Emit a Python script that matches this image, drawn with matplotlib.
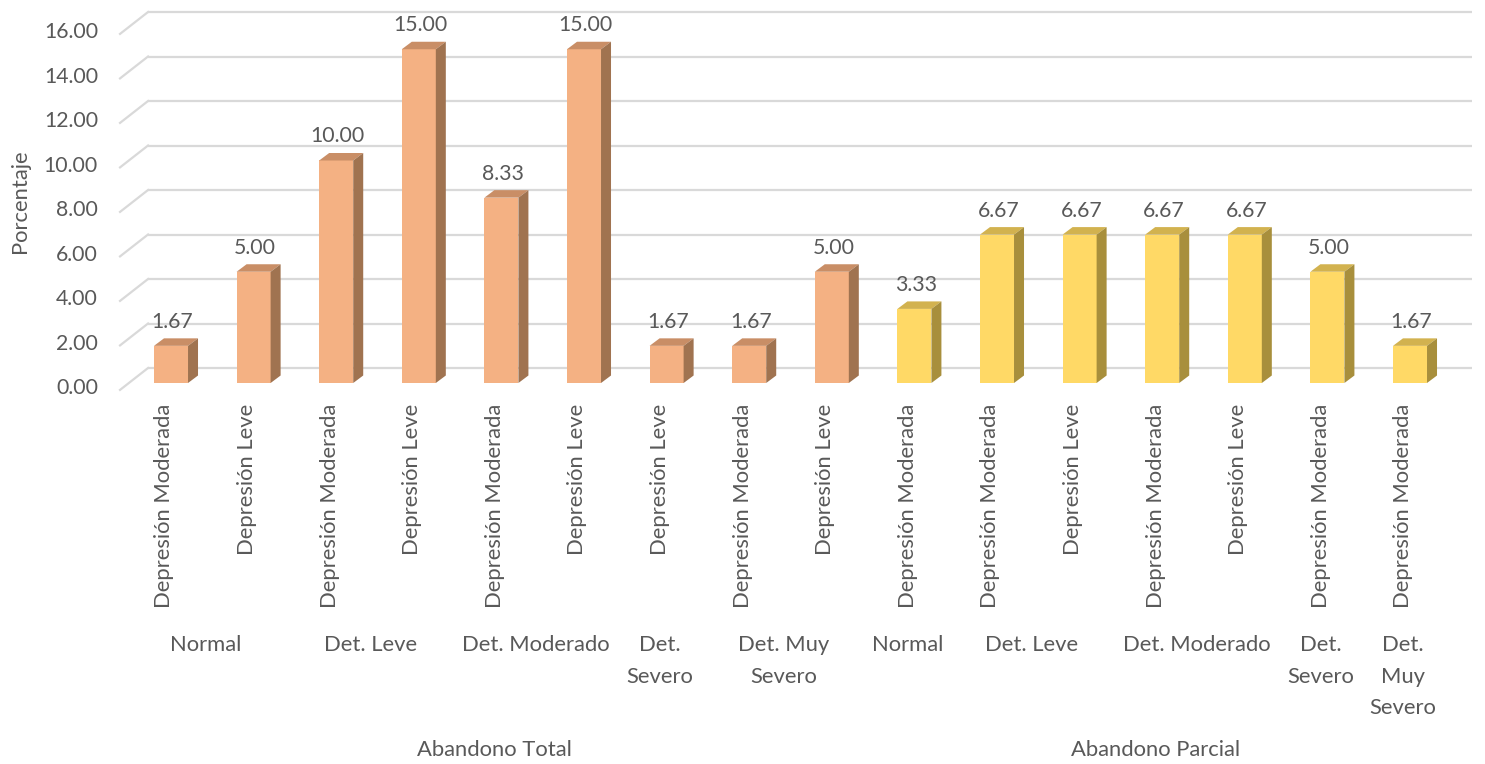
import matplotlib
matplotlib.use("Agg")
import matplotlib.pyplot as plt
from matplotlib.patches import Polygon

plt.rcParams['font.family'] = ['Lato', 'DejaVu Sans']

# ---- data ----
values = [1.67, 5.00, 10.00, 15.00, 8.33, 15.00, 1.67, 1.67, 5.00,
          3.33, 6.67, 6.67, 6.67, 6.67, 5.00, 1.67]
categories = ["Depresión Moderada", "Depresión Leve", "Depresión Moderada", "Depresión Leve",
              "Depresión Moderada", "Depresión Leve", "Depresión Leve", "Depresión Moderada",
              "Depresión Leve",
              "Depresión Moderada", "Depresión Moderada", "Depresión Leve", "Depresión Moderada",
              "Depresión Leve", "Depresión Moderada", "Depresión Moderada"]
mid_labels = ["Normal", "Det. Leve", "Det. Moderado", "Det.\nSevero", "Det. Muy\nSevero",
              "Normal", "Det. Leve", "Det. Moderado", "Det.\nSevero", "Det.\nMuy\nSevero"]
mid_sizes = [2, 2, 2, 1, 2, 1, 2, 2, 1, 1]
top_labels = ["Abandono Total", "Abandono Parcial"]
top_sizes = [9, 7]
yticks = [0, 2, 4, 6, 8, 10, 12, 14, 16]
ylabel = "Porcentaje"

# ---- style ----
TXT = "#595959"
GRID = "#D9D9D9"
faces = {
    0: ("#F4B183", "#C98E66", "#A07350"),
    1: ("#FFD966", "#D2B24F", "#A88F3C"),
}
FS_NUM = 15.3
FS_TXT = 15.8

W, H = 1485, 764
fig = plt.figure(figsize=(W / 100, H / 100), dpi=100)
ax = fig.add_axes([0, 0, 1, 1])
# data mapping: bar i centred at px 171 + i*82.6 ; value 0 at px 383, 22.25 px per unit
xu = 15 / 1239.0
yu = 1 / 22.25
x0 = -171 * xu
ax.set_xlim(x0, x0 + W * xu)
ax.set_ylim(-(H - 383) * yu, 383 * yu)
ax.axis("off")

# 3D frame geometry (in data units)
wall_front_x = -0.617
wall_back_x = -0.278
wall_front_dy = -0.31
wall_back_dy = 0.674
grid_right = (1472 - 171) * xu

for v in yticks:
    ax.plot([wall_back_x, grid_right], [v + wall_back_dy] * 2, color=GRID, lw=1.6, zorder=1,
            solid_capstyle="butt")
    ax.plot([wall_front_x, wall_back_x], [v + wall_front_dy, v + wall_back_dy], color=GRID,
            lw=1.6, zorder=1)
    ax.text(-0.884, v - 0.225, f"{v:.2f}", ha="right", va="center", fontsize=FS_NUM, color=TXT)

ax.text(-1.83, (383 - 201) * yu, ylabel, rotation=90, ha="center", va="center",
        fontsize=FS_TXT, color=TXT)

# bars
hw = 0.206
ddx = 10 * xu
ddy = 7.5 * yu
group_of = []
for g, n in enumerate(top_sizes):
    group_of += [g] * n

for i, v in enumerate(values):
    front, top, side = faces[group_of[i]]
    xl, xr = i - hw, i + hw
    ax.add_patch(Polygon([(xl, 0), (xr, 0), (xr, v), (xl, v)], closed=True,
                         facecolor=front, edgecolor="none", zorder=3))
    ax.add_patch(Polygon([(xl, v), (xr, v), (xr + ddx, v + ddy), (xl + ddx, v + ddy)],
                         closed=True, facecolor=top, edgecolor="none", zorder=3))
    ax.add_patch(Polygon([(xr, 0), (xr + ddx, ddy), (xr + ddx, v + ddy), (xr, v)],
                         closed=True, facecolor=side, edgecolor="none", zorder=3))
    ax.text(i + 0.02, v + 0.81, f"{v:.2f}", ha="center", va="baseline", fontsize=FS_NUM,
            color=TXT, zorder=4)
    ax.text(i - 0.08, -(404 - 383) * yu, categories[i], rotation=90, ha="center", va="top",
            fontsize=FS_TXT, color=TXT)

# mid-level labels
start = 0
for lab, n in zip(mid_labels, mid_sizes):
    c = start + (n - 1) / 2 - 0.085
    ax.text(c, -(635 - 383) * yu, lab, ha="center", va="top", fontsize=FS_TXT, color=TXT,
            linespacing=1.72)
    start += n

# top-level labels
start = 0
for lab, n in zip(top_labels, top_sizes):
    c = start + (n - 1) / 2 - 0.085
    ax.text(c, -(750 - 383) * yu, lab, ha="center", va="center", fontsize=FS_TXT, color=TXT)
    start += n

fig.savefig("out.png", dpi=100)
